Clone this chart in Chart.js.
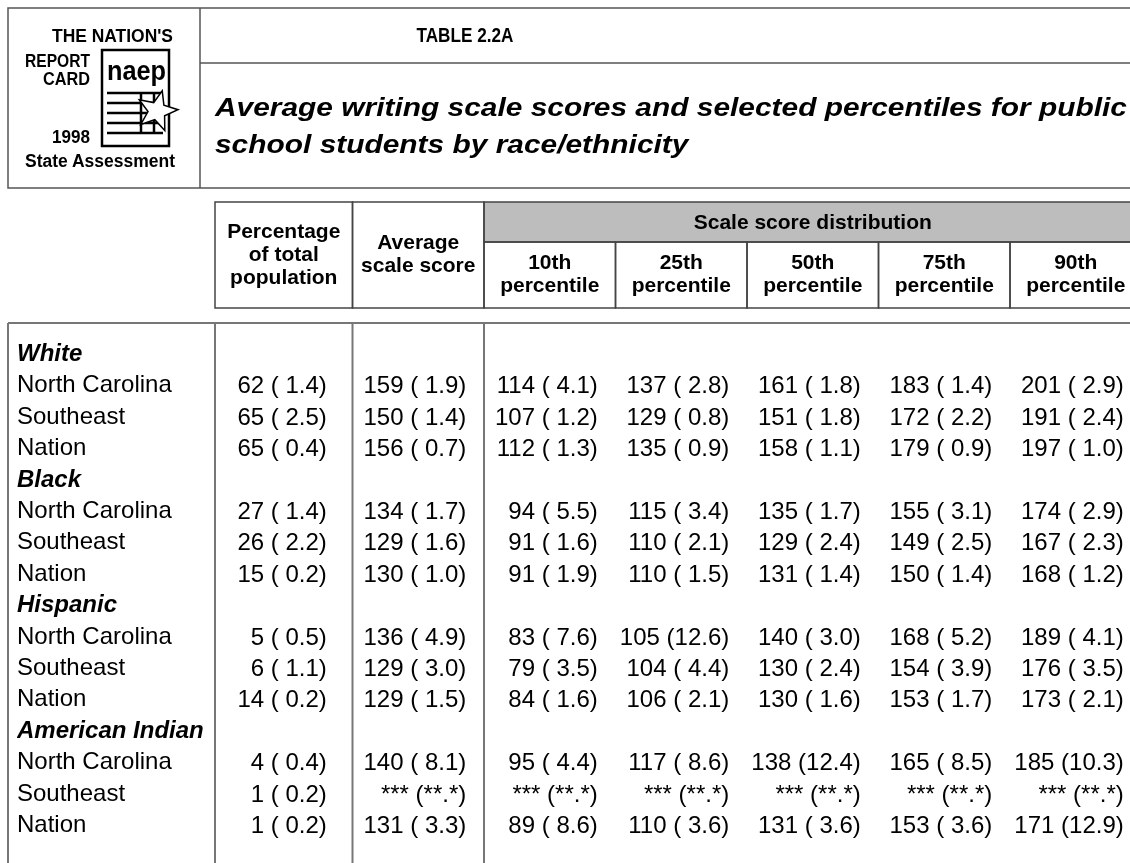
<!DOCTYPE html>
<html>
<head>
<meta charset="utf-8">
<title>Table 2.2A</title>
<script src="https://cdn.jsdelivr.net/npm/chart.js@4.4.1/dist/chart.umd.min.js"></script>
<style>
  html, body { margin: 0; padding: 0; background: #fff; overflow: hidden; }
  #page { position: relative; width: 1130px; height: 863px; overflow: hidden; }
  #table-chart { position: absolute; left: 0; top: 0; }
  #header { position: absolute; left: 0; top: 0; }
  #header text { font-family: "Liberation Sans", Arial, Helvetica, sans-serif; }
</style>
</head>
<body>
<div id="page">
  <canvas id="table-chart" width="1150" height="863"></canvas>
  <svg id="header" width="1150" height="200" xmlns="http://www.w3.org/2000/svg">
    <!-- cadre du bandeau -->
    <g stroke="#555" stroke-width="1.5" fill="none">
      <rect x="8" y="8" width="1140" height="180"/>
      <line x1="200" y1="8" x2="200" y2="188"/>
      <line x1="200" y1="63" x2="1150" y2="63"/>
    </g>
    <!-- logo -->
    <g font-weight="bold" fill="#000">
      <text x="52" y="42" font-size="18" textLength="121" lengthAdjust="spacingAndGlyphs">THE NATION'S</text>
      <text x="25" y="67" font-size="18" textLength="65" lengthAdjust="spacingAndGlyphs">REPORT</text>
      <text x="43" y="85" font-size="18" textLength="47" lengthAdjust="spacingAndGlyphs">CARD</text>
      <text x="52" y="143" font-size="18" textLength="38" lengthAdjust="spacingAndGlyphs">1998</text>
      <text x="25" y="167" font-size="18" textLength="150" lengthAdjust="spacingAndGlyphs">State Assessment</text>
      <text x="107" y="80" font-size="27" textLength="59" lengthAdjust="spacingAndGlyphs">naep</text>
    </g>
    <g stroke="#000" fill="none">
      <rect x="102" y="50" width="67" height="96" stroke-width="2.5"/>
      <g stroke-width="2.5">
        <line x1="107" y1="93" x2="163" y2="93"/>
        <line x1="107" y1="103" x2="163" y2="103"/>
        <line x1="107" y1="113" x2="163" y2="113"/>
        <line x1="107" y1="123" x2="163" y2="123"/>
        <line x1="107" y1="133" x2="163" y2="133"/>
        <line x1="141" y1="93" x2="141" y2="133"/>
        <line x1="154" y1="93" x2="154" y2="133"/>
      </g>
      <polygon id="star" fill="#fff" stroke-width="1.5" points=""/>
    </g>
    <!-- titres -->
    <text x="465" y="42" font-size="21" font-weight="bold" text-anchor="middle" textLength="97" lengthAdjust="spacingAndGlyphs">TABLE 2.2A</text>
    <g font-size="26" font-weight="bold" font-style="italic">
      <text id="sub1" x="215" y="116">Average writing scale scores and selected percentiles for public</text>
      <text id="sub2" x="215" y="153">school students by race/ethnicity</text>
    </g>
  </svg>
</div>
<script>
// Groupes et lignes du tableau
const groups = ['White', 'Black', 'Hispanic', 'American Indian'];
const places = ['North Carolina', 'Southeast', 'Nation'];

// En-têtes des colonnes
const colHeaders = [
  ['Percentage', 'of total', 'population'],
  ['Average', 'scale score'],
  ['10th', 'percentile'],
  ['25th', 'percentile'],
  ['50th', 'percentile'],
  ['75th', 'percentile'],
  ['90th', 'percentile']
];
const bandTitle = 'Scale score distribution';

// Valeurs (12 lignes : NC, Southeast, Nation pour chaque groupe), null = ***
const pct    = [62, 65, 65, 27, 26, 15, 5, 6, 14, 4, 1, 1];
const pctSE  = [1.4, 2.5, 0.4, 1.4, 2.2, 0.2, 0.5, 1.1, 0.2, 0.4, 0.2, 0.2];
const avg    = [159, 150, 156, 134, 129, 130, 136, 129, 129, 140, null, 131];
const avgSE  = [1.9, 1.4, 0.7, 1.7, 1.6, 1.0, 4.9, 3.0, 1.5, 8.1, null, 3.3];
const p10    = [114, 107, 112, 94, 91, 91, 83, 79, 84, 95, null, 89];
const p10SE  = [4.1, 1.2, 1.3, 5.5, 1.6, 1.9, 7.6, 3.5, 1.6, 4.4, null, 8.6];
const p25    = [137, 129, 135, 115, 110, 110, 105, 104, 106, 117, null, 110];
const p25SE  = [2.8, 0.8, 0.9, 3.4, 2.1, 1.5, 12.6, 4.4, 2.1, 8.6, null, 3.6];
const p50    = [161, 151, 158, 135, 129, 131, 140, 130, 130, 138, null, 131];
const p50SE  = [1.8, 1.8, 1.1, 1.7, 2.4, 1.4, 3.0, 2.4, 1.6, 12.4, null, 3.6];
const p75    = [183, 172, 179, 155, 149, 150, 168, 154, 153, 165, null, 153];
const p75SE  = [1.4, 2.2, 0.9, 3.1, 2.5, 1.4, 5.2, 3.9, 1.7, 8.5, null, 3.6];
const p90    = [201, 191, 197, 174, 167, 168, 189, 176, 173, 185, null, 171];
const p90SE  = [2.9, 2.4, 1.0, 2.9, 2.3, 1.2, 4.1, 3.5, 2.1, 10.3, null, 12.9];

const colValues = [pct, avg, p10, p25, p50, p75, p90];
const colErrors = [pctSE, avgSE, p10SE, p25SE, p50SE, p75SE, p90SE];

// Construction des libellés de lignes
const rowLabels = [];
const isGroup = [];
groups.forEach(g => {
  rowLabels.push(g); isGroup.push(true);
  places.forEach(p => { rowLabels.push(p); isGroup.push(false); });
});
const dataRow = d => Math.floor(d / 3) * 4 + 1 + (d % 3);

const FONT = '"Liberation Sans", Arial, Helvetica, sans-serif';

function cellText(v, se) {
  if (v === null) return '*** (**.*)';
  return v + ' (' + (se < 10 ? ' ' : '') + se.toFixed(1) + ')';
}

// étoile du logo
(function() {
  const pts = [];
  for (let i = 0; i < 10; i++) {
    const r = i % 2 ? 9 : 21;
    const a = -Math.PI / 2 + i * Math.PI / 5 + 0.25;
    pts.push((157 + r * Math.cos(a)).toFixed(1) + ',' + (111 + r * Math.sin(a)).toFixed(1));
  }
  document.getElementById('star').setAttribute('points', pts.join(' '));
})();

function fitSubtitle() {
  const s1 = document.getElementById('sub1');
  const s2 = document.getElementById('sub2');
  const l1 = s1.getComputedTextLength();
  const l2 = s2.getComputedTextLength();
  const k = 912 / l1;
  s1.setAttribute('textLength', 912);
  s1.setAttribute('lengthAdjust', 'spacingAndGlyphs');
  s2.setAttribute('textLength', (l2 * k).toFixed(1));
  s2.setAttribute('lengthAdjust', 'spacingAndGlyphs');
}

// Plugin : cadres, en-têtes et texte des cellules
const tablePlugin = {
  id: 'tableCells',
  beforeDatasetsDraw(chart) {
    const { ctx, chartArea, scales: { x } } = chart;
    const top = chartArea.top;
    const edge = k => x.getPixelForValue(k - 0.5);
    const hTop = top - 121, hBand = top - 81, hBot = top - 15;
    const firstLeft = edge(0) - 6;

    ctx.save();
    // bande grise
    ctx.fillStyle = '#bdbdbd';
    ctx.fillRect(edge(2), hTop, edge(7) - edge(2), hBand - hTop);

    ctx.strokeStyle = '#444';
    ctx.lineWidth = 1.5;
    ctx.strokeRect(firstLeft, hTop, edge(1) - firstLeft, hBot - hTop);
    ctx.strokeRect(edge(1), hTop, edge(2) - edge(1), hBot - hTop);
    ctx.strokeRect(edge(2), hTop, edge(7) - edge(2), hBand - hTop);
    for (let k = 2; k < 7; k++) {
      ctx.strokeRect(edge(k), hBand, edge(k + 1) - edge(k), hBot - hBand);
    }

    // textes des en-têtes
    ctx.fillStyle = '#000';
    ctx.font = 'bold 21px ' + FONT;
    ctx.textAlign = 'center';
    ctx.textBaseline = 'middle';
    const lh = 23;
    const drawLines = (lines, cx, cy) => {
      lines.forEach((t, i) => ctx.fillText(t, cx, cy + (i - (lines.length - 1) / 2) * lh));
    };
    drawLines(colHeaders[0], (firstLeft + edge(1)) / 2, (hTop + hBot) / 2);
    drawLines(colHeaders[1], (edge(1) + edge(2)) / 2, (hTop + hBot) / 2);
    ctx.fillText(bandTitle, (edge(2) + edge(7)) / 2, (hTop + hBand) / 2 + 1);
    for (let k = 2; k < 7; k++) {
      drawLines(colHeaders[k], (edge(k) + edge(k + 1)) / 2, (hBand + hBot) / 2);
    }

    // lignes du corps
    ctx.strokeStyle = '#777';
    ctx.lineWidth = 2;
    ctx.beginPath();
    ctx.moveTo(8, top); ctx.lineTo(chart.width, top);
    [8, firstLeft, edge(1), edge(2)].forEach(px => {
      ctx.moveTo(px, top); ctx.lineTo(px, chartArea.bottom);
    });
    ctx.stroke();
    ctx.restore();
  },
  afterDatasetsDraw(chart) {
    const { ctx, scales: { x } } = chart;
    const band = x.getPixelForValue(1) - x.getPixelForValue(0);
    ctx.save();
    ctx.fillStyle = '#000';
    ctx.font = '24px ' + FONT;
    ctx.textAlign = 'right';
    ctx.textBaseline = 'middle';
    chart.data.datasets.forEach((ds, c) => {
      const meta = chart.getDatasetMeta(c);
      const shift = band * (c === 0 ? 0.305 : 0.365);
      meta.data.forEach((el, i) => {
        const raw = ds.data[i];
        ctx.fillText(cellText(raw.v, raw.se), el.x + shift, el.y + 1);
      });
    });
    ctx.restore();
  }
};

const datasets = colValues.map((vals, c) => ({
  label: colHeaders[c].join(' '),
  data: vals.map((v, d) => ({ x: c, y: dataRow(d), v: v, se: colErrors[c][d] })),
  pointRadius: 0,
  pointHoverRadius: 0,
  showLine: false
}));

function build() {
  fitSubtitle();
  new Chart(document.getElementById('table-chart'), {
    type: 'scatter',
    data: { datasets: datasets },
    options: {
      responsive: false,
      animation: false,
      events: [],
      layout: { padding: { left: 17, top: 323, right: 8.5, bottom: 0 } },
      plugins: { legend: { display: false }, tooltip: { enabled: false } },
      scales: {
        x: { type: 'linear', display: false, min: -0.5, max: 6.5 },
        y: {
          type: 'linear',
          reverse: true,
          min: -1,
          max: 16.2,
          afterBuildTicks: scale => { scale.ticks = rowLabels.map((_, i) => ({ value: i })); },
          afterFit: scale => {
            scale.width = 204;
            scale.paddingTop = 0;
            scale.paddingBottom = 0;
          },
          grid: { display: false },
          border: { display: false },
          ticks: {
            autoSkip: false,
            crossAlign: 'far',
            padding: 0,
            color: '#000',
            callback: (value, index) => rowLabels[index],
            font: ctx => isGroup[ctx.index]
              ? { family: FONT, size: 24, weight: 'bold', style: 'italic' }
              : { family: FONT, size: 24 }
          }
        }
      }
    },
    plugins: [tablePlugin]
  });
}

if (document.fonts && document.fonts.ready) {
  document.fonts.ready.then(build);
} else {
  build();
}
</script>
</body>
</html>
